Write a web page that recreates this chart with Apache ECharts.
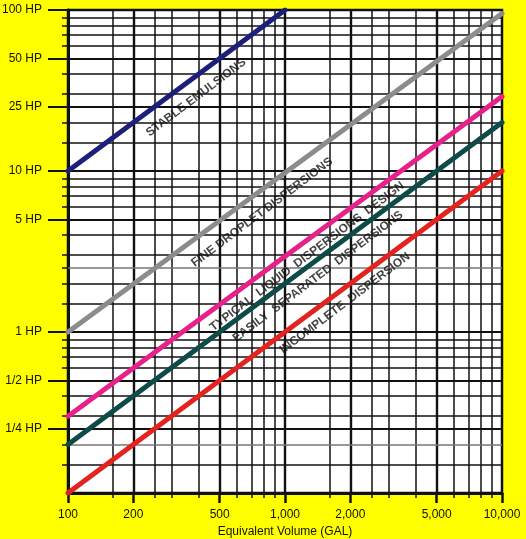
<!DOCTYPE html>
<html><head><meta charset="utf-8">
<script src="https://cdn.jsdelivr.net/npm/echarts@6/dist/echarts.min.js"></script>
<style>html,body{margin:0;padding:0;background:#ffff00}#c{width:526px;height:539px}</style>
</head><body><div id="c"></div>
<script>
// ---- data ----
const xTickValues = [100, 200, 500, 1000, 2000, 5000, 10000];
const xTickLabels = ['100', '200', '500', '1,000', '2,000', '5,000', '10,000'];
const xMinorValues = [160, 250, 300, 400, 600, 700, 800, 900, 1600, 2500, 3000, 4000, 6000, 7000, 8000, 9000];
const yTickValues = [0.25, 0.5, 1, 5, 10, 25, 50, 100];
const yTickLabels = ['1/4 HP', '1/2 HP', '1 HP', '5 HP', '10 HP', '25 HP', '50 HP', '100 HP'];
const yMinorValues = [0.15, 0.2, 0.3, 0.4, 0.6, 0.7, 0.8, 0.9, 1.5, 2, 2.5, 3, 4, 6, 7, 8, 9, 15, 20, 30, 40, 60, 70, 80, 90];
const yGrayValues = [0.2, 2.5];

const seriesNames = ['STABLE EMULSIONS', 'FINE DROPLET DISPERSIONS', 'TYPICAL  LIQUID  DISPERSIONS  DESIGN', 'EASILY  SEPARATED  DISPERSIONS', 'INCOMPLETE  DISPERSION'];
const volumeStart = [100, 100, 100, 100, 100];
const volumeEnd = [1000, 10000, 10000, 10000, 10000];
const hpStart = [10, 1, 0.3, 0.2, 0.1];
const hpEnd = [100, 95, 29, 20, 10];
const labelVolume = [389, 784, 1263, 1419, 1890];
const labelHp = [28.6, 5.54, 2.94, 2.21, 1.51];

// ---- styles ----
const lineColors = ['#1c1f7c', '#8c8c8c', '#e6218a', '#0e4a48', '#e2231f'];
const ink = '#111';
const font = 'Liberation Sans, Arial, sans-serif';

function lookup(vals, labels, v) {
  for (let i = 0; i < vals.length; i++) {
    if (Math.abs(vals[i] - v) / vals[i] < 1e-6) return labels[i];
  }
  return '';
}

const chart = echarts.init(document.getElementById('c'), null, {renderer: 'canvas'});

const gridLineData = [];
xMinorValues.forEach(v => gridLineData.push({xAxis: v, lineStyle: {color: ink, width: 1.5, type: 'solid'}}));
xTickValues.slice(1, -1).forEach(v => gridLineData.push({xAxis: v, lineStyle: {color: ink, width: 2.4, type: 'solid'}}));
yMinorValues.forEach(v => gridLineData.push({yAxis: v, lineStyle: {color: yGrayValues.indexOf(v) >= 0 ? '#777' : ink, width: 1.5, type: 'solid'}}));
yTickValues.slice(0, -1).forEach(v => gridLineData.push({yAxis: v, lineStyle: {color: ink, width: 2, type: 'solid'}}));

const series = [{
  type: 'line', name: 'grid', data: [], silent: true,
  markLine: {
    silent: true, z: 1, animation: false, symbol: ['none', 'none'],
    label: {show: false}, emphasis: {disabled: true},
    lineStyle: {type: 'solid', color: ink},
    data: gridLineData
  }
}];
seriesNames.forEach((n, i) => {
  series.push({
    type: 'line', name: n, z: 3, silent: true, animation: false,
    showSymbol: false, symbol: 'none',
    data: [[volumeStart[i], hpStart[i]], [volumeEnd[i], hpEnd[i]]],
    lineStyle: {color: lineColors[i], width: 5, cap: 'round'}
  });
});
series.push({
  type: 'scatter', name: 'labels', z: 4, silent: true, animation: false,
  symbolSize: 1, itemStyle: {color: 'rgba(0,0,0,0)'},
  data: labelVolume.map((v, i) => [v, labelHp[i]]),
  label: {
    show: true, position: 'inside', rotate: 37,
    formatter: p => seriesNames[p.dataIndex],
    fontSize: 12, fontWeight: 'bold', color: ink, fontFamily: font
  }
});

chart.setOption({
  backgroundColor: '#ffff00',
  animation: false,
  grid: {left: 68, right: 24, top: 10, bottom: 46, show: true, backgroundColor: '#ffffff',
         borderColor: ink, borderWidth: 2.5, outerBoundsMode: 'none', containLabel: false},
  xAxis: [{
    type: 'log', logBase: 10, min: 100, max: 10000, position: 'bottom',
    axisLine: {show: true, onZero: false, lineStyle: {color: ink, width: 3}},
    axisTick: {show: true, customValues: xMinorValues, length: 5, lineStyle: {color: ink, width: 1.5}},
    axisLabel: {show: false}, splitLine: {show: false}, minorTick: {show: false}
  }, {
    type: 'log', logBase: 10, min: 100, max: 10000, position: 'bottom',
    axisLine: {show: false, onZero: false},
    axisTick: {show: true, customValues: xTickValues, length: 10, lineStyle: {color: ink, width: 2.5}},
    axisLabel: {show: true, customValues: xTickValues, margin: 16, fontSize: 12, color: ink, fontFamily: font,
                formatter: v => lookup(xTickValues, xTickLabels, v)},
    splitLine: {show: false},
    name: 'Equivalent Volume (GAL)', nameLocation: 'middle', nameGap: 30,
    nameTextStyle: {fontSize: 12, color: ink, fontFamily: font}
  }],
  yAxis: [{
    type: 'log', logBase: 10, min: 0.1, max: 100, position: 'left',
    axisLine: {show: true, onZero: false, lineStyle: {color: ink, width: 3}},
    axisTick: {show: true, customValues: yMinorValues, length: 6, lineStyle: {color: ink, width: 1.5}},
    axisLabel: {show: false}, splitLine: {show: false}, minorTick: {show: false}
  }, {
    type: 'log', logBase: 10, min: 0.1, max: 100, position: 'left',
    axisLine: {show: false, onZero: false},
    axisTick: {show: true, customValues: yTickValues, length: 20, lineStyle: {color: ink, width: 2}},
    axisLabel: {show: true, customValues: yTickValues, margin: 26, fontSize: 12, color: ink, fontFamily: font,
                formatter: v => lookup(yTickValues, yTickLabels, v)},
    splitLine: {show: false}
  }],
  series: series
});
</script></body></html>
